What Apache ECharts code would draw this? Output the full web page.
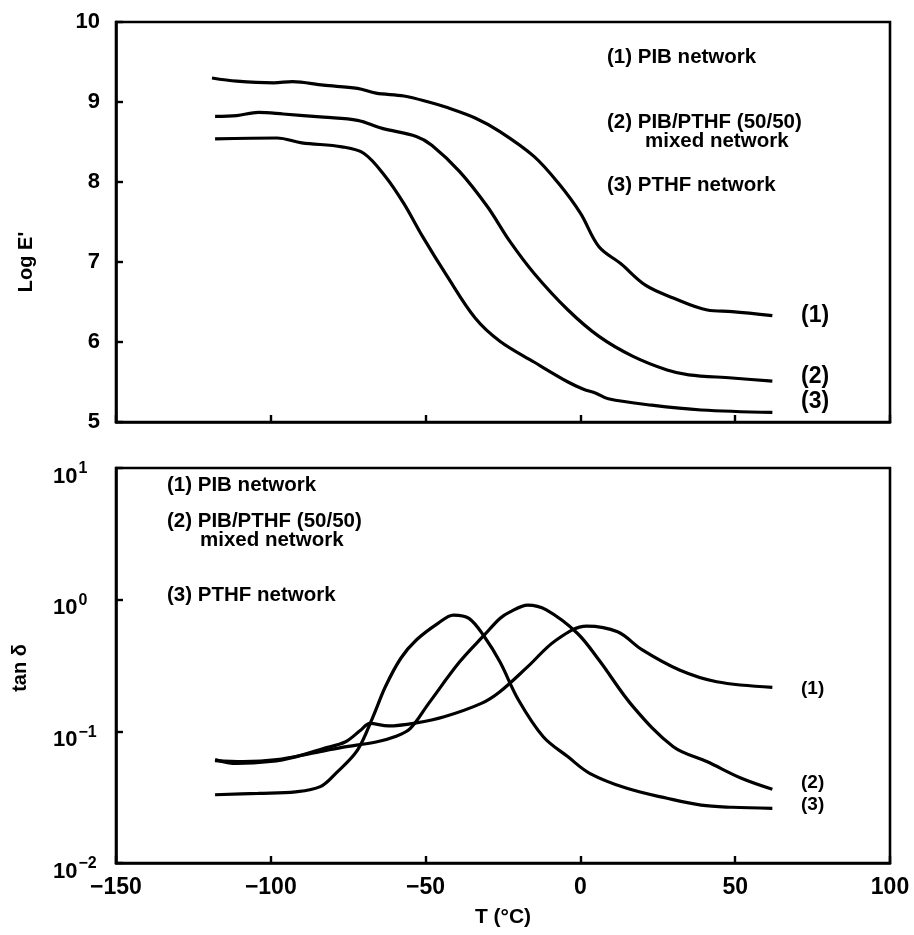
<!DOCTYPE html>
<html>
<head>
<meta charset="utf-8">
<script src="https://cdn.jsdelivr.net/npm/echarts@6/dist/echarts.min.js"></script>
<style>html,body{margin:0;padding:0;background:#fff}#c{width:914px;height:935px}</style>
</head>
<body>
<div id="c"></div>
<script>
// ---- Data ----
// Top panel: Log E'
var T_E1 = [-119,-111,-99,-93,-83,-72,-66,-57,-49,-43,-34,-26,-15,-7,0,6,13,21,30,41,49,62];
var E1   = [9.30,9.26,9.24,9.255,9.21,9.17,9.11,9.075,9.00,8.93,8.80,8.63,8.32,7.98,7.61,7.19,6.98,6.71,6.55,6.40,6.38,6.33];
var T_E2 = [-118,-111,-104,-96,-83,-72,-64,-53,-48,-39,-30,-23,-15,-4,6,17,28,35,49,62];
var E2   = [8.82,8.83,8.87,8.85,8.81,8.77,8.67,8.57,8.46,8.13,7.69,7.27,6.86,6.40,6.07,5.82,5.65,5.59,5.55,5.51];
var T_E3 = [-118,-98,-90,-77,-70,-63,-57,-51,-43,-34,-26,-15,-4,1,5,9,23,39,62];
var E3   = [8.54,8.55,8.49,8.44,8.36,8.07,7.73,7.32,6.82,6.30,6.01,5.75,5.50,5.41,5.36,5.29,5.21,5.15,5.12];
// Bottom panel: tan delta
var T_D1 = [-118,-111,-100,-92,-83,-76,-71,-68,-62,-53,-44,-32,-26,-17,-8,2,12,20,32,44,62];
var D1   = [0.061,0.057,0.059,0.064,0.074,0.083,0.102,0.115,0.110,0.116,0.129,0.163,0.20,0.31,0.49,0.63,0.57,0.415,0.292,0.238,0.216];
var T_D2 = [-118,-109,-98,-87,-77,-66,-60,-55,-49,-39,-31,-26,-23,-17,-11,-1,6,17,30,41,52,62];
var D2   = [0.060,0.059,0.061,0.068,0.0755,0.083,0.091,0.105,0.163,0.337,0.54,0.72,0.80,0.91,0.836,0.556,0.348,0.154,0.0764,0.0587,0.044,0.0363];
var T_D3 = [-118,-104,-92,-84,-79,-72,-67,-63,-58,-53,-46,-41,-36,-31,-26,-20,-12,-4,3,15,28,39,49,62];
var D3   = [0.033,0.0338,0.0347,0.038,0.048,0.072,0.129,0.218,0.359,0.494,0.661,0.764,0.721,0.523,0.337,0.173,0.091,0.064,0.048,0.0369,0.031,0.0275,0.0265,0.026];

var xTicks = [-150,-100,-50,0,50,100];
var legendText = ['(1) PIB network','(2) PIB/PTHF (50/50)','mixed network','(3) PTHF network'];
var curveTags = ['(1)','(2)','(3)'];

function pairs(xs, ys){ return xs.map(function(x,i){ return [x, ys[i]]; }); }

var FONT = '"Liberation Sans", Arial, Helvetica, sans-serif';
var chart = echarts.init(document.getElementById('c'), null, {renderer:'canvas'});

function lineSeries(xi, yi, data){
  return {type:'line', xAxisIndex:xi, yAxisIndex:yi, data:data, smooth:0.35,
    showSymbol:false, symbol:'none', lineStyle:{color:'#000', width:3.2}, z:3, silent:true};
}
var axisLineStyle = {onZero:false, lineStyle:{color:'#000', width:2.6}};
var tickStyle = {show:true, inside:true, length:7, lineStyle:{color:'#000', width:2.4}};
function txt(x, y, s, size){
  return {type:'text', x:x, y:y, style:{text:s, fill:'#000', font:'bold '+size+'px '+FONT, textVerticalAlign:'middle', textAlign:'left'}};
}

var option = {
  backgroundColor:'#fff',
  animation:false,
  textStyle:{fontFamily:FONT},
  grid:[
    {left:116, top:22, width:774, height:400, show:true, borderColor:'#000', borderWidth:2.6, backgroundColor:'transparent'},
    {left:116, top:468, width:774, height:395, show:true, borderColor:'#000', borderWidth:2.6, backgroundColor:'transparent'}
  ],
  xAxis:[
    {gridIndex:0, type:'value', min:-150, max:100, interval:50, axisLine:axisLineStyle, axisTick:tickStyle,
     axisLabel:{show:false}, splitLine:{show:false}},
    {gridIndex:1, type:'value', min:-150, max:100, interval:50, axisLine:axisLineStyle, axisTick:tickStyle,
     axisLabel:{show:true, color:'#000', fontSize:23, fontWeight:'bold', margin:13,
       formatter:function(v){ return String(v).replace('-','\u2212'); }},
     splitLine:{show:false},
     name:'T (\u00B0C)', nameLocation:'middle', nameGap:44,
     nameTextStyle:{color:'#000', fontSize:21, fontWeight:'bold'}}
  ],
  yAxis:[
    {gridIndex:0, type:'value', min:5, max:10, interval:1, axisLine:axisLineStyle, axisTick:tickStyle,
     axisLabel:{color:'#000', fontSize:22, fontWeight:'bold', margin:16}, splitLine:{show:false}},
    {gridIndex:1, type:'log', logBase:10, min:0.01, max:10, axisLine:axisLineStyle, axisTick:tickStyle,
     splitLine:{show:false},
     axisLabel:{color:'#000', align:'left', margin:63, padding:[10,0,0,0],
       formatter:function(v){
         var e = Math.round(Math.log10(v));
         var es = (e<0 ? '\u2212' : '') + Math.abs(e);
         return '{b|10}{s|' + es + '}';
       },
       rich:{
         b:{fontSize:22, fontWeight:'bold', color:'#000', lineHeight:24, padding:[7,0,0,0], fontFamily:FONT},
         s:{fontSize:16, fontWeight:'bold', color:'#000', lineHeight:18, verticalAlign:'top', padding:[0,0,0,1], fontFamily:FONT}
       }}}
  ],
  graphic:[
    // axis names
    {type:'text', x:26, y:262, rotation:Math.PI/2, style:{text:"Log E'", fill:'#000', font:'bold 20px '+FONT, textAlign:'center', textVerticalAlign:'middle'}},
    {type:'text', x:20, y:668, rotation:Math.PI/2, style:{text:'tan \u03B4', fill:'#000', font:'bold 20px '+FONT, textAlign:'center', textVerticalAlign:'middle'}},
    // top legend
    txt(607, 57, legendText[0], 20.5),
    txt(607, 122, legendText[1], 20.5),
    txt(645, 141, legendText[2], 20.5),
    txt(607, 185, legendText[3], 20.5),
    // bottom legend
    txt(167, 485, legendText[0], 20.5),
    txt(167, 521, legendText[1], 20.5),
    txt(200, 540, legendText[2], 20.5),
    txt(167, 595, legendText[3], 20.5),
    // curve tags top
    txt(801, 316, curveTags[0], 23),
    txt(801, 377, curveTags[1], 23),
    txt(801, 402, curveTags[2], 23),
    // curve tags bottom
    txt(801, 689, curveTags[0], 19),
    txt(801, 783, curveTags[1], 19),
    txt(801, 805, curveTags[2], 19)
  ],
  series:[
    lineSeries(0,0,pairs(T_E1,E1)),
    lineSeries(0,0,pairs(T_E2,E2)),
    lineSeries(0,0,pairs(T_E3,E3)),
    lineSeries(1,1,pairs(T_D1,D1)),
    lineSeries(1,1,pairs(T_D2,D2)),
    lineSeries(1,1,pairs(T_D3,D3))
  ]
};
chart.setOption(option);
</script>
</body>
</html>
